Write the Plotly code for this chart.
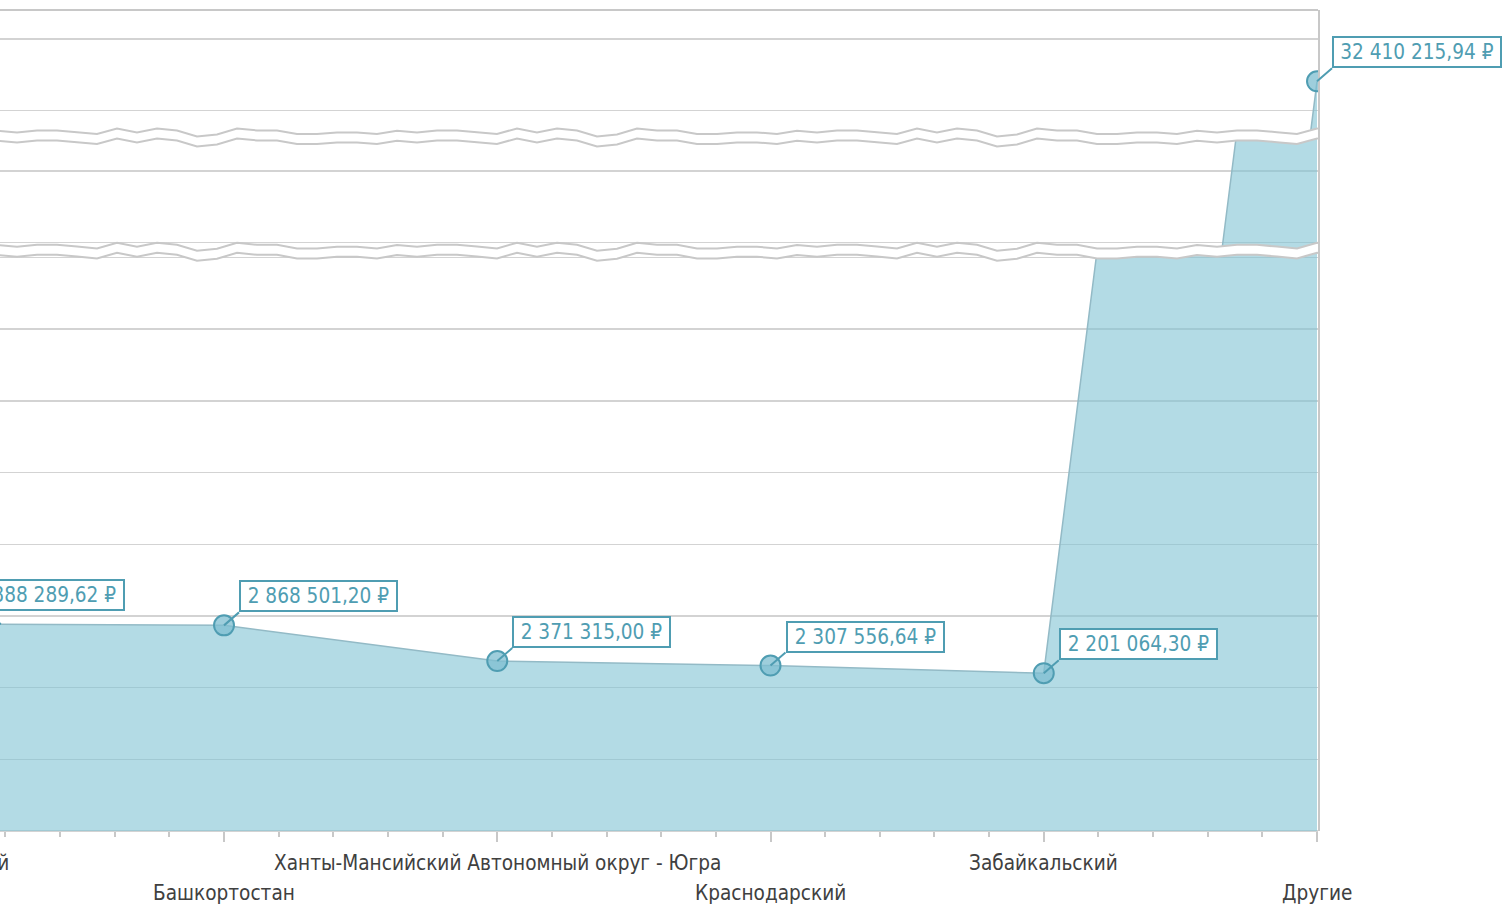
import plotly.graph_objects as go

# ---------------- data ----------------
categories = ["Московский", "Башкортостан", "Ханты-Мансийский Автономный округ - Югра",
              "Краснодарский", "Забайкальский", "Другие"]
values = [2888289.62, 2868501.20, 2371315.00, 2307556.64, 2201064.30, 32410215.94]
# value-axis segments kept between the scale breaks
segments = [(0.0, 8.09e6), (21.88e6, 23.475e6), (31.637e6, 33.405e6)]
grid_step = 1e6

# ---------------- style / geometry ----------------
FIG_W, FIG_H = 1503, 907
M_L, M_R, M_T, M_B = 0, 185, 10, 76
PLOT_W = FIG_W - M_L - M_R
PLOT_H = FIG_H - M_T - M_B
X0 = 0.1802
X1 = X0 + PLOT_W / 273.25

TEAL = "#4f9db2"
FILL = "rgba(128,195,212,0.6)"
LINE = "#93bac6"
GRID = "#d3d3d3"
BORDER = "#c8c8c8"
FONT = "DejaVu Sans Condensed, Noto Sans, DejaVu Sans, sans-serif"
FS = 20.6

idx = list(range(len(categories)))

# domains proportional to the value spans (same pixel scale in each segment)
spans = [b - a for a, b in segments]
tot = sum(spans)
domains = []
acc = 0.0
for s in spans:
    domains.append([acc / tot, (acc + s) / tot])
    acc += s
domains[-1][1] = 1.0

fig = go.Figure()
axnames = ["y", "y2", "y3"]
for k, yn in enumerate(axnames):
    fig.add_trace(go.Scatter(
        x=idx, y=values, xaxis="x", yaxis=yn,
        mode="lines+markers", fill="tozeroy", fillcolor=FILL,
        line=dict(color=LINE, width=1.5),
        marker=dict(size=20, color="rgba(125,190,208,0.75)", line=dict(color=TEAL, width=2)),
        showlegend=False, hoverinfo="skip"))

layout = dict(
    width=FIG_W, height=FIG_H,
    margin=dict(l=M_L, r=M_R, t=M_T, b=M_B, pad=0),
    paper_bgcolor="white", plot_bgcolor="rgba(0,0,0,0)",
    font=dict(family=FONT, size=FS, color="#404040"),
    hovermode=False,
    xaxis=dict(type="linear", range=[X0, X1], anchor="y", domain=[0, 1],
               tickmode="array", tickvals=idx, showticklabels=False,
               ticks="outside", ticklen=10, tickwidth=2, tickcolor=BORDER,
               minor=dict(dtick=0.2, tick0=0, ticks="outside", ticklen=5,
                          tickwidth=2, tickcolor=BORDER, showgrid=False),
               showgrid=False, zeroline=False, showline=False),
)
for k, yn in enumerate(axnames):
    key = "yaxis" if k == 0 else f"yaxis{k+1}"
    layout[key] = dict(domain=domains[k], range=list(segments[k]), anchor="x",
                       side="right", showticklabels=False, ticks="",
                       dtick=grid_step, tick0=0, showgrid=True, gridcolor=GRID,
                       gridwidth=1.5, zeroline=True, zerolinecolor=GRID,
                       zerolinewidth=1.5, showline=True, linecolor=BORDER,
                       linewidth=2)
fig.update_layout(**layout)


def fmt(v):
    return f"{v:,.2f}".replace(",", " ").replace(".", ",") + " ₽"


def xpaper(i):
    return (i - X0) / (X1 - X0)


annotations = []
# category labels, staggered in two rows
for i, c in enumerate(categories):
    annotations.append(dict(
        x=xpaper(i), y=0, xref="paper", yref="paper", text=c, showarrow=False,
        xanchor="center", yanchor="middle", yshift=-32 if i % 2 == 0 else -62,
        font=dict(family=FONT, size=FS, color="#404040")))

# value labels
for i, v in enumerate(values):
    seg = next(k for k, (a, b) in enumerate(segments) if a <= v <= b)
    inside = X0 <= i <= X1
    txt = fmt(v)
    annotations.append(dict(
        x=i if inside else xpaper(i), xref="x" if inside else "paper",
        y=v, yref=axnames[seg], text=txt,
        showarrow=True, arrowhead=0, arrowwidth=2, arrowcolor=TEAL,
        ax=15, ay=-13, xanchor="left", yanchor="bottom",
        width=151 + (11 if len(txt) > 14 else 0),
        bordercolor=TEAL, borderwidth=2, borderpad=2, bgcolor="white",
        font=dict(family=FONT, size=FS, color=TEAL)))
fig.update_layout(annotations=annotations)

# ---------------- decorations: scale-break bands and top border ----------------
wave = [-1, 0.7, -1.3, -1.3, 0.5, 2.3, -3.3, 0.7, -3.3, -1.3,
        4.7, 2.7, -3.3, -1.3, -1.3, 2.3, 2.3, 0.7, 0.7, 2.3]
HALF = 5.0
shapes = []
for k in range(len(segments) - 1):
    yc = domains[k][1]  # paper y of break centre
    pts = []
    n = 0
    xpx = -3
    while xpx < PLOT_W:
        pts.append((xpx, wave[n % len(wave)]))
        xpx += 20
        n += 1
    # last point clamped exactly to the right edge of the plot
    prev_x, prev_o = pts[-1]
    nxt_o = wave[n % len(wave)]
    t = (PLOT_W - prev_x) / 20.0
    pts.append((PLOT_W, prev_o + (nxt_o - prev_o) * t))
    top = [(px / PLOT_W, yc + (HALF - off) / PLOT_H) for px, off in pts]
    bot = [(px / PLOT_W, yc - (HALF + off) / PLOT_H) for px, off in pts]
    poly = "M " + " L ".join(f"{x:.5f},{y:.5f}" for x, y in top + bot[::-1]) + " Z"
    shapes.append(dict(type="path", xref="paper", yref="paper", path=poly,
                       fillcolor="white", line=dict(width=0), layer="above"))
    for line_pts in (top, bot):
        p = "M " + " L ".join(f"{x:.5f},{y:.5f}" for x, y in line_pts)
        shapes.append(dict(type="path", xref="paper", yref="paper", path=p,
                           line=dict(color=BORDER, width=2), layer="above"))
shapes.append(dict(type="line", xref="paper", yref="paper", x0=0, x1=1, y0=1, y1=1,
                   line=dict(color=BORDER, width=2), layer="above"))
fig.update_layout(shapes=shapes)

fig.write_html("out.html", config={"displayModeBar": False, "staticPlot": True},
               post_script="document.body.style.margin='0';document.body.style.overflow='hidden';")
